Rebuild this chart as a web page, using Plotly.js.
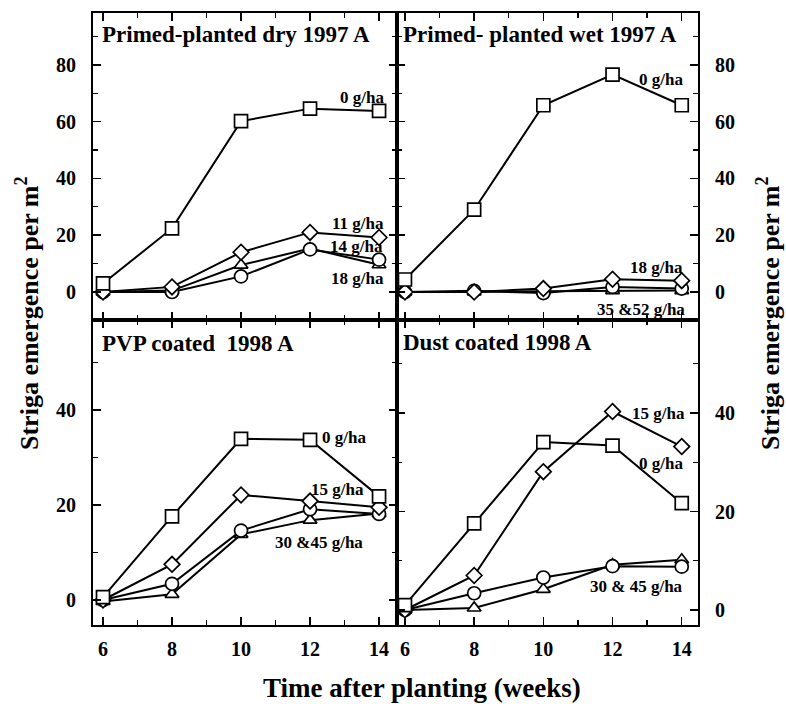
<!DOCTYPE html>
<html>
<head>
<meta charset="utf-8">
<script src="https://cdn.plot.ly/plotly-3.0.1.min.js"></script>
<style>html,body{margin:0;padding:0;background:#fff;}#chart{width:786px;height:704px;}</style>
</head>
<body>
<div id="chart"></div>
<script>
// ---- data ----
const weeks = [6, 8, 10, 12, 14];

const panelTitles = ["Primed-planted dry 1997 A", "Primed- planted wet 1997 A", "PVP coated  1998 A", "Dust coated 1998 A"];

// Primed-planted dry 1997 A
const dry_0  = [3.0, 22.4, 60.2, 64.6, 63.8];
const dry_11 = [0.0, 1.8, 14.0, 21.0, 19.2];
const dry_14 = [0.0, 0.5, 9.5, 15.3, 9.6];
const dry_18 = [0.0, 0.0, 5.5, 15.0, 11.4];

// Primed- planted wet 1997 A
const wet_0  = [4.4, 29.0, 65.8, 76.6, 65.8];
const wet_18 = [0.0, 0.0, 1.2, 4.5, 4.0];
const wet_35 = [0.0, 0.4, -0.4, 1.8, 1.2];
const wet_52 = [0.0, 0.0, 0.3, 0.5, 0.5];

// PVP coated 1998 A
const pvp_0  = [0.6, 17.6, 33.9, 33.7, 21.8];
const pvp_15 = [0.0, 7.5, 22.1, 20.8, 19.5];
const pvp_30 = [0.0, 3.4, 14.6, 19.1, 18.1];
const pvp_45 = [-0.3, 1.2, 13.8, 16.8, 18.2];

// Dust coated 1998 A
const dust_0  = [1.0, 17.6, 34.1, 33.4, 21.7];
const dust_15 = [0.0, 7.0, 28.1, 40.3, 33.2];
const dust_30 = [0.0, 3.4, 6.6, 8.9, 8.8];
const dust_45 = [0.0, 0.4, 4.2, 9.2, 10.2];

const xTickVals = [6, 8, 10, 12, 14];
const yTickTop = [0, 20, 40, 60, 80];
const yTickBottom = [0, 20, 40];

// ---- styling / layout ----
const W = 786, H = 704;
const FONT = "Liberation Serif, Times New Roman, serif";
const px = v => v / W;
const py = v => 1 - v / H;

function series(x, y, xa, ya, symbol, size, name) {
  return {
    x: x, y: y, xaxis: xa, yaxis: ya, name: name, type: 'scatter', mode: 'lines+markers',
    line: {color: '#000', width: 2},
    marker: {symbol: symbol, size: size, color: '#fff', line: {color: '#000', width: 1.7}},
    showlegend: false, cliponaxis: false, hoverinfo: 'x+y'
  };
}
function sq(y, xa, ya, n) { return series(weeks, y, xa, ya, 'square', 13, n); }
function di(y, xa, ya, n) { return series(weeks, y, xa, ya, 'diamond', 12, n); }
function ci(y, xa, ya, n) { return series(weeks, y, xa, ya, 'circle', 13, n); }
function tr(y, xa, ya, n) { return series(weeks, y, xa, ya, 'triangle-up', 12, n); }

const data = [
  tr(dry_14, 'x', 'y', '14 g/ha'), ci(dry_18, 'x', 'y', '18 g/ha'), di(dry_11, 'x', 'y', '11 g/ha'), sq(dry_0, 'x', 'y', '0 g/ha'),
  tr(wet_52, 'x2', 'y2', '52 g/ha'), ci(wet_35, 'x2', 'y2', '35 g/ha'), di(wet_18, 'x2', 'y2', '18 g/ha'), sq(wet_0, 'x2', 'y2', '0 g/ha'),
  tr(pvp_45, 'x3', 'y3', '45 g/ha'), ci(pvp_30, 'x3', 'y3', '30 g/ha'), di(pvp_15, 'x3', 'y3', '15 g/ha'), sq(pvp_0, 'x3', 'y3', '0 g/ha'),
  tr(dust_45, 'x4', 'y4', '45 g/ha'), ci(dust_30, 'x4', 'y4', '30 g/ha'), di(dust_15, 'x4', 'y4', '15 g/ha'), sq(dust_0, 'x4', 'y4', '0 g/ha')
];

const tickFont = {family: FONT, size: 20, color: '#000', weight: 'bold'};
function xax(domain, range, anchor, labels) {
  return {
    domain: domain, range: range, anchor: anchor,
    tickvals: xTickVals, ticktext: xTickVals.map(String), showticklabels: labels,
    ticks: 'inside', ticklen: 8, tickwidth: 1.5, tickcolor: '#000',
    minor: {dtick: 1, tick0: 0, ticks: 'inside', ticklen: 5, tickwidth: 1.3, tickcolor: '#000'},
    showline: true, linecolor: '#000', linewidth: 2, mirror: 'ticks',
    showgrid: false, zeroline: false, tickfont: tickFont, ticklabelstandoff: 5, fixedrange: true
  };
}
function yax(domain, range, anchor, vals, side, labels) {
  return {
    domain: domain, range: range, anchor: anchor, side: side,
    tickvals: vals, ticktext: vals.map(String), showticklabels: labels,
    ticks: 'inside', ticklen: 8, tickwidth: 1.5, tickcolor: '#000',
    minor: {dtick: 10, tick0: 0, ticks: 'inside', ticklen: 5, tickwidth: 1.3, tickcolor: '#000'},
    showline: true, linecolor: '#000', linewidth: 2, mirror: 'ticks',
    showgrid: false, zeroline: false, tickfont: tickFont, ticklabelstandoff: 11, fixedrange: true
  };
}

const xL = [px(93), px(397)], xR = [px(397), px(698)];
const yT = [py(320), py(13)], yB = [py(625), py(320)];

const annFont = {family: FONT, size: 17, color: '#000', weight: 'bold'};
function lab(text, x, y, xa, ya, anchor) {
  return {text: text, x: x, y: y, xref: xa, yref: ya, xanchor: anchor || 'right', yanchor: 'middle',
          showarrow: false, font: annFont};
}
const titleFont = {family: FONT, size: 23, color: '#000', weight: 'bold'};
function ptitle(text, xpix, ypix) {
  return {text: text, x: px(xpix), y: py(ypix), xref: 'paper', yref: 'paper', xanchor: 'left', yanchor: 'middle',
          showarrow: false, font: titleFont};
}
const axisTitleFont = {family: FONT, size: 26, color: '#000', weight: 'bold'};

const annotations = [
  ptitle(panelTitles[0], 100, 34),
  ptitle(panelTitles[1], 401, 35),
  ptitle(panelTitles[2], 100, 343),
  ptitle(panelTitles[3], 401, 342),
  lab('0 g/ha', 14.2, 68.4, 'x', 'y'),
  lab('11 g/ha', 14.2, 24.3, 'x', 'y'),
  lab('14 g/ha', 14.17, 16.0, 'x', 'y'),
  lab('18 g/ha', 14.2, 4.6, 'x', 'y'),
  lab('0 g/ha', 14.09, 74.7, 'x2', 'y2'),
  lab('18 g/ha', 14.09, 8.8, 'x2', 'y2'),
  lab('35 &52 g/ha', 14.15, -6.0, 'x2', 'y2'),
  lab('0 g/ha', 12.29, 34.1, 'x3', 'y3', 'left'),
  lab('15 g/ha', 13.62, 23.2, 'x3', 'y3'),
  lab('30 &45 g/ha', 13.59, 12.2, 'x3', 'y3'),
  lab('15 g/ha', 14.15, 40.0, 'x4', 'y4'),
  lab('0 g/ha', 14.09, 29.8, 'x4', 'y4'),
  lab('30 & 45 g/ha', 14.09, 4.7, 'x4', 'y4'),
  {text: 'Striga emergence per m<sup>2</sup>', x: px(27), y: py(313), xref: 'paper', yref: 'paper',
   xanchor: 'center', yanchor: 'middle', textangle: -90, showarrow: false, font: axisTitleFont},
  {text: 'Striga emergence per m<sup>2</sup>', x: px(768), y: py(313), xref: 'paper', yref: 'paper',
   xanchor: 'center', yanchor: 'middle', textangle: -90, showarrow: false, font: axisTitleFont},
  {text: 'Time after planting (weeks)', x: px(422), y: py(688), xref: 'paper', yref: 'paper',
   xanchor: 'center', yanchor: 'middle', showarrow: false, font: {family: FONT, size: 27, color: '#000', weight: 'bold'}}
];

const layout = {
  width: W, height: H, margin: {l: 0, r: 0, t: 0, b: 0},
  paper_bgcolor: '#fff', plot_bgcolor: '#fff', showlegend: false,
  font: {family: FONT, color: '#000'},
  xaxis:  xax(xL, [5.71, 14.52], 'y', false),
  xaxis2: xax(xR, [5.77, 14.47], 'y2', false),
  xaxis3: xax(xL, [5.71, 14.52], 'y3', true),
  xaxis4: xax(xR, [5.77, 14.47], 'y4', true),
  yaxis:  yax(yT, [-9.87, 98.3], 'x', yTickTop, 'left', true),
  yaxis2: yax(yT, [-9.87, 98.3], 'x2', yTickTop, 'right', true),
  yaxis3: yax(yB, [-5.26, 58.9], 'x3', yTickBottom, 'left', true),
  yaxis4: yax(yB, [-3.05, 58.9], 'x4', yTickBottom, 'right', true),
  annotations: annotations
};

Plotly.newPlot('chart', data, layout, {staticPlot: true, displayModeBar: false});
</script>
</body>
</html>
